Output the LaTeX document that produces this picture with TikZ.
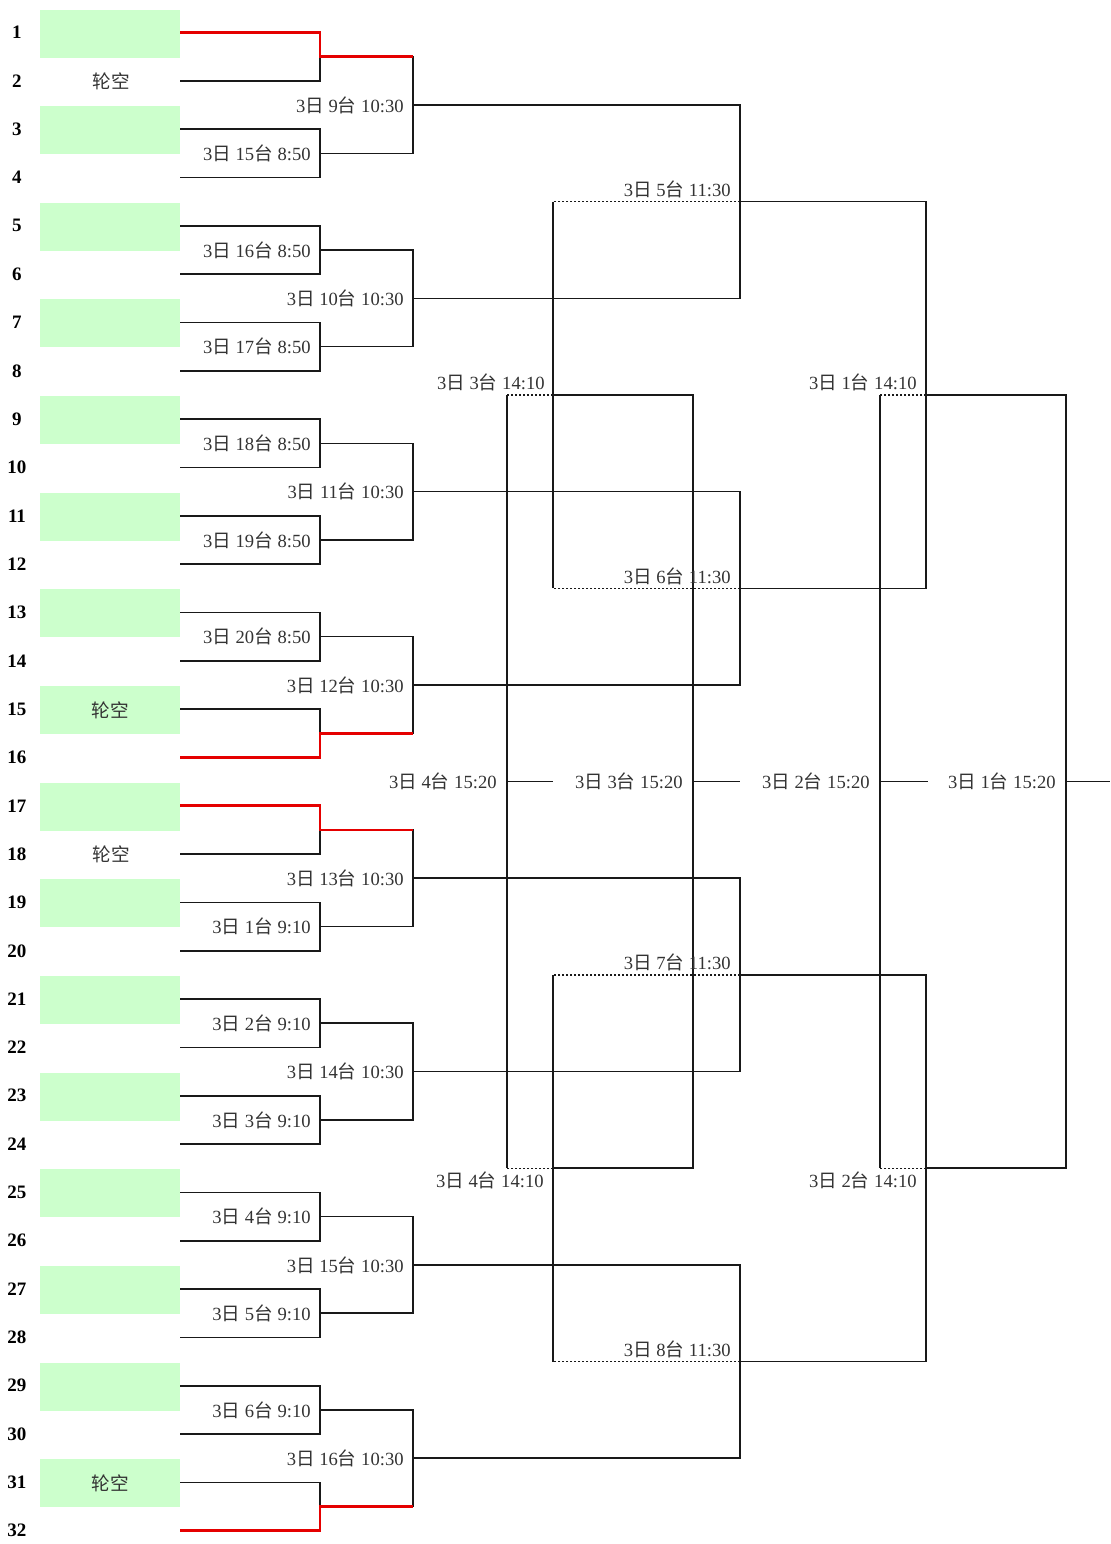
\documentclass[tikz,border=0pt]{standalone}
\usepackage{fontspec}
\setmainfont{Liberation Serif}
\newfontfamily\cjk{Noto Sans CJK SC}
\usetikzlibrary{calc}
\definecolor{seatgreen}{HTML}{CCFFCC}
\newcommand{\game}[2]{3{\cjk 日} #1{\cjk 台} #2}
\begin{document}
\begin{tikzpicture}[x=0.5pt, y=-0.5pt,
	line/.style={line width=0.8pt, draw=black!90},
	win/.style={line width=1.3pt, draw=red!90!black},
	dots/.style={line width=0.55pt, draw=black!90, dash pattern=on 1pt off 1pt},
	lbl/.style={font=\fontsize{9.3}{11}\selectfont, text=black!80, inner sep=0pt},
	num/.style={font=\fontsize{9.5}{11}\selectfont\bfseries, inner sep=0pt},
	seat/.style={fill=seatgreen, minimum width=70pt, minimum height=24pt, inner sep=0pt}]
	\useasboundingbox (0,0) rectangle (1110,1544);
	
	%seats
	\foreach \i in {1,...,32}{
		\coordinate (s\i) at (180, 32.5+48.33*\i-48.33);
		\node[num] (n\i) at (17, 32.5+48.33*\i-48.33) {\i};
	}
	\foreach \i in {1,3,...,31}{
		\node[seat] (p\i) at ($(s\i)+(-70,1)$) {};
	}
	\node[lbl] (bye2) at ($(s2)+(-69,0)$) {\cjk 轮空};
	\node[lbl] (bye15) at (p15) {\cjk 轮空};
	\node[lbl] (bye18) at ($(s18)+(-69,0)$) {\cjk 轮空};
	\node[lbl] (bye31) at (p31) {\cjk 轮空};
	
	%first round
	\foreach \k in {1,...,16}{
		\pgfmathtruncatemacro\m{2*\k-1}
		\pgfmathtruncatemacro\n{2*\k}
		\coordinate (a\k) at (320, 32.5+48.33*\m-24.165);
		\draw[line] (s\m) -| (a\k) |- (s\n);
	}
	
	%second round
	\foreach \k in {1,...,8}{
		\pgfmathtruncatemacro\m{2*\k-1}
		\pgfmathtruncatemacro\n{2*\k}
		\coordinate (r\k) at (413, 32.5+48.33*4*\k-120.825);
		\draw[line] (a\m) -| (r\k) |- (a\n);
	}
	
	%third round
	\foreach \k in {1,...,4}{
		\pgfmathtruncatemacro\m{2*\k-1}
		\pgfmathtruncatemacro\n{2*\k}
		\coordinate (q\k) at (740, 32.5+48.33*8*\k-217.485);
		\draw[line] (r\m) -| (q\k) |- (r\n);
	}
	
	%semis
	\coordinate (d1) at (926, 32.5+48.33*7.5);
	\coordinate (d2) at (926, 32.5+48.33*23.5);
	\coordinate (e1) at (553, 32.5+48.33*7.5);
	\coordinate (e2) at (553, 32.5+48.33*23.5);
	\draw[line] (q1) -| (d1) |- (q2);
	\draw[line] (q3) -| (d2) |- (q4);
	\draw[dots] (q1) -- (q1 -| e1);
	\draw[dots] (q2) -- (q2 -| e1);
	\draw[line] (q1 -| e1) -- (q2 -| e1);
	\draw[dots] (q3) -- (q3 -| e2);
	\draw[dots] (q4) -- (q4 -| e2);
	\draw[line] (q3 -| e2) -- (q4 -| e2);
	
	%finals
	\foreach \k/\x/\o in {1/1066/1110, 2/880/928, 3/693/740, 4/507/553}{
		\coordinate (f\k) at (\x, 32.5+48.33*15.5);
		\coordinate (o\k) at (\o, 32.5+48.33*15.5);
		\draw[line] (f\k) -- (o\k);
	}
	\draw[line] (d1) -| (f1) |- (d2);
	\draw[dots] (d1) -- (d1 -| f2);
	\draw[dots] (d2) -- (d2 -| f2);
	\draw[line] (d1 -| f2) -- (d2 -| f2);
	\draw[line] (e1) -| (f3) |- (e2);
	\draw[dots] (e1) -- (e1 -| f4);
	\draw[dots] (e2) -- (e2 -| f4);
	\draw[line] (e1 -| f4) -- (e2 -| f4);
	
	%byes go through
	\draw[win] (s1) -| (a1) -- (a1 -| r1);
	\draw[win] (s16) -| (a8) -- (a8 -| r4);
	\draw[win] (s17) -| (a9) -- (a9 -| r5);
	\draw[win] (s32) -| (a16) -- (a16 -| r8);
	
	%match labels
	\foreach \k/\t/\h in {2/15/8:50, 3/16/8:50, 4/17/8:50, 5/18/8:50, 6/19/8:50, 7/20/8:50,
		10/1/9:10, 11/2/9:10, 12/3/9:10, 13/4/9:10, 14/5/9:10, 15/6/9:10}{
		\node[lbl, anchor=east] (ga\k) at ($(a\k)+(-9,0)$) {\game{\t}{\h}};
	}
	\foreach \k in {1,...,8}{
		\pgfmathtruncatemacro\t{\k+8}
		\node[lbl, anchor=east] (gr\k) at ($(r\k)+(-9,0)$) {\game{\t}{10:30}};
	}
	\foreach \k in {1,...,4}{
		\pgfmathtruncatemacro\t{\k+4}
		\node[lbl, anchor=base east] (gq\k) at ($(q\k)+(-9,-5)$) {\game{\t}{11:30}};
	}
	\node[lbl, anchor=base east] (gd1) at ($(d1)+(-9,-5)$) {\game{1}{14:10}};
	\node[lbl, anchor=base east] (gd2) at ($(d2)+(-9,19)$) {\game{2}{14:10}};
	\node[lbl, anchor=base east] (ge1) at ($(e1)+(-8,-5)$) {\game{3}{14:10}};
	\node[lbl, anchor=base east] (ge2) at ($(e2)+(-9,19)$) {\game{4}{14:10}};
	\foreach \k in {1,...,4}{
		\node[lbl, anchor=east] (gf\k) at ($(f\k)+(-10,0)$) {\game{\k}{15:20}};
	}
\end{tikzpicture}
\end{document}
